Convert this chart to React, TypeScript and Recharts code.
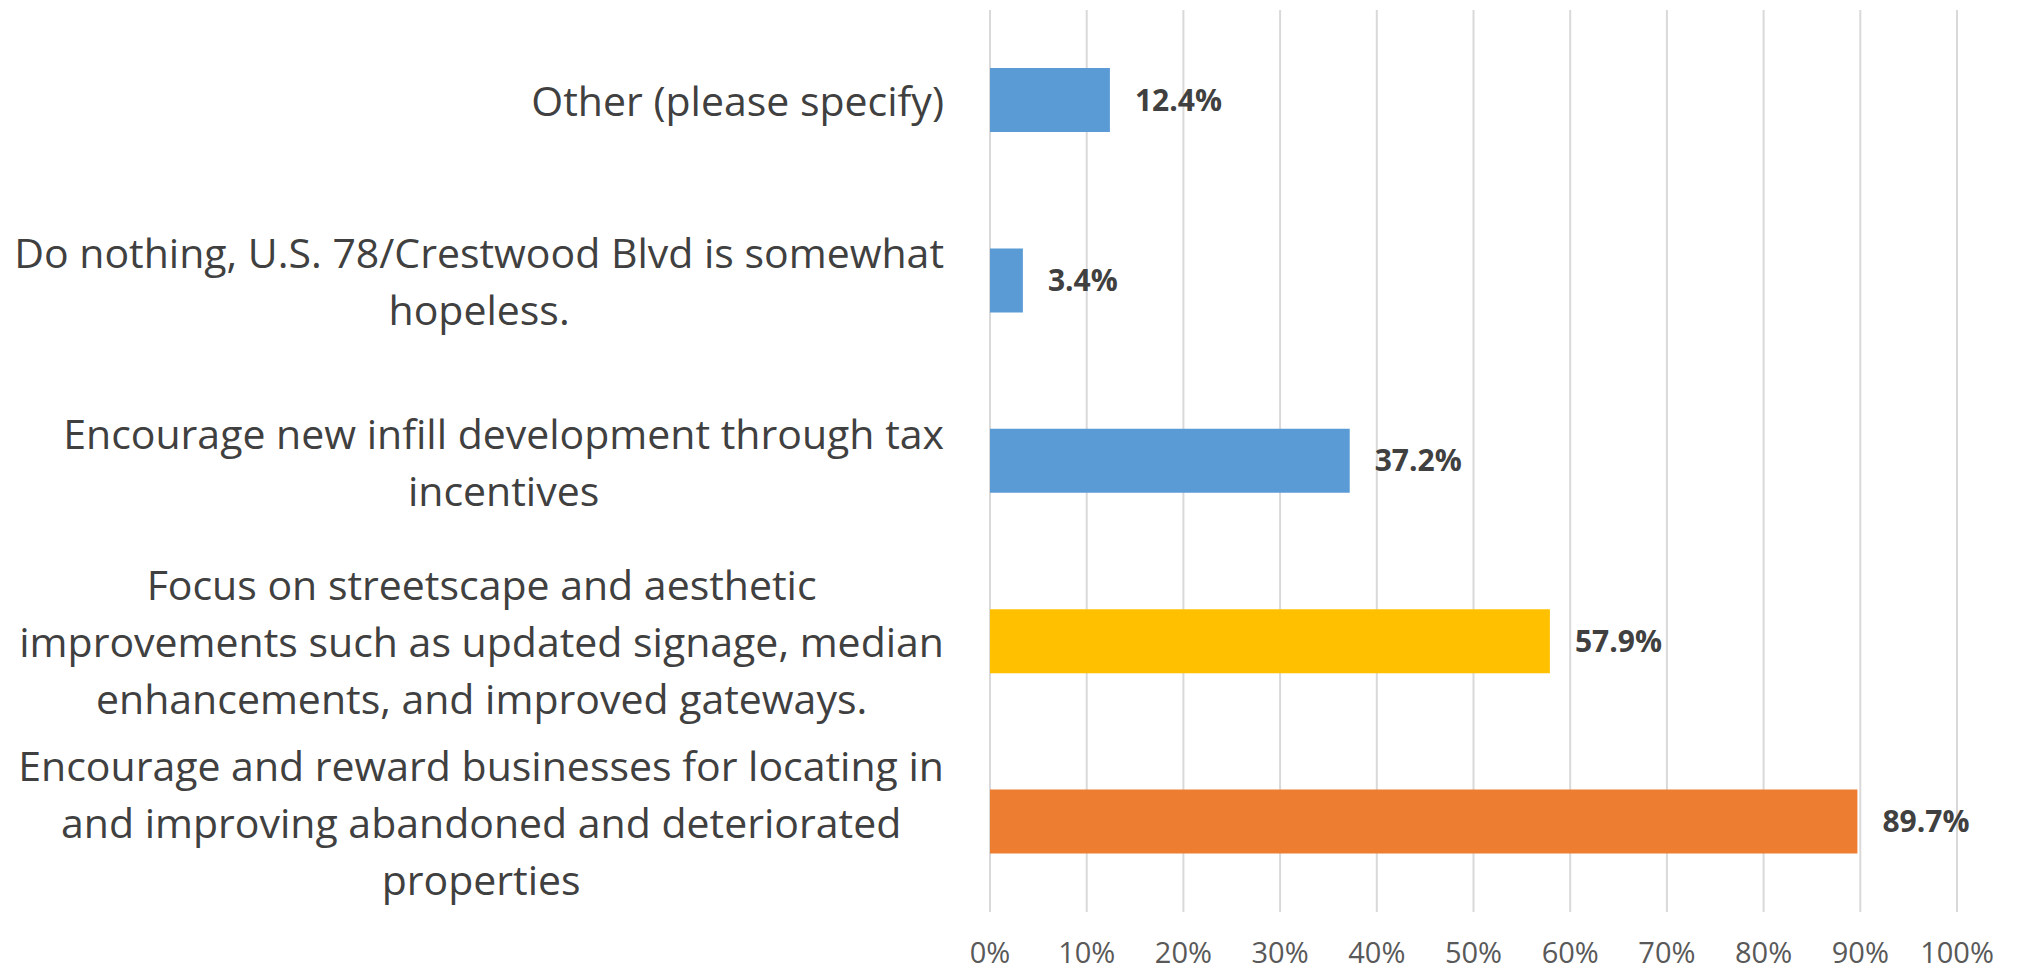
import React from 'react';
import { BarChart, Bar, XAxis, YAxis, CartesianGrid, Cell, LabelList } from 'recharts';

// survey answers, top to bottom, pre-wrapped like the original
const categoryLines: string[][] = [
  ['Other (please specify)'],
  ['Do nothing, U.S. 78/Crestwood Blvd is somewhat', 'hopeless.'],
  ['Encourage new infill development through tax', 'incentives'],
  ['Focus on streetscape and aesthetic', 'improvements such as updated signage, median', 'enhancements, and improved gateways.'],
  ['Encourage and reward businesses for locating in', 'and improving abandoned and deteriorated', 'properties'],
];
const percentValues = [12.4, 3.4, 37.2, 57.9, 89.7];
const barColors = ['#5B9BD5', '#5B9BD5', '#5B9BD5', '#FFC000', '#ED7D31'];
const xTicks = [0, 10, 20, 30, 40, 50, 60, 70, 80, 90, 100];

const data = categoryLines.map((lines, i) => ({
  name: lines.join(' '),
  value: percentValues[i],
}));

const FONT = '"Open Sans", sans-serif';
const CAT_SIZE = 41;
const LINE_GAP = 57;

let ctx: CanvasRenderingContext2D | null = null;
function textWidth(s: string) {
  if (!ctx) ctx = document.createElement('canvas').getContext('2d');
  if (!ctx) return s.length * CAT_SIZE * 0.5;
  ctx.font = `${CAT_SIZE}px "Open Sans"`;
  return ctx.measureText(s).width;
}

// right-aligned block, each line centred inside it (Excel style)
const CategoryTick = (props: any) => {
  const { x, y, index } = props;
  const lines = categoryLines[index] || [];
  const block = Math.max(...lines.map(textWidth));
  const right = x - 46;
  const cx = right - block / 2;
  return (
    <g>
      {lines.map((l, i) => (
        <text key={i} x={cx} y={y + (i - (lines.length - 1) / 2) * LINE_GAP} textAnchor="middle"
          dominantBaseline="central" fontFamily={FONT} fontSize={CAT_SIZE} fill="#404040">
          {l}
        </text>
      ))}
    </g>
  );
};

const PercentTick = (props: any) => {
  const { x, y, payload } = props;
  return (
    <text x={x} y={y + 51} textAnchor="middle"
      fontFamily={FONT} fontSize={29} fill="#595959">
      {`${payload.value}%`}
    </text>
  );
};

export default function App() {
  return (
    <div style={{ position: 'absolute', left: 0, top: 0, background: '#fff' }}>
      <BarChart width={2019} height={971} data={data} layout="vertical"
        margin={{ top: 10, right: 62, left: 0, bottom: 0 }}>
        <CartesianGrid horizontal={false} stroke="#d9d9d9" strokeWidth={2} />
        <XAxis type="number" domain={[0, 100]} ticks={xTicks} height={59}
          axisLine={false} tickLine={false} tickSize={0} tickMargin={0} tick={<PercentTick />} />
        <YAxis type="category" dataKey="name" width={990} axisLine={false} tickLine={false}
          tickSize={0} tickMargin={0} tick={<CategoryTick />} interval={0} />
        <Bar dataKey="value" barSize={64} isAnimationActive={false}>
          {data.map((d, i) => (
            <Cell key={d.name} fill={barColors[i]} />
          ))}
          <LabelList dataKey="value" position="right" offset={25}
            formatter={(v: any) => `${Number(v).toFixed(1)}%`}
            style={{ fontFamily: FONT, fontSize: 30, fontWeight: 700, fill: '#404040' }} />
        </Bar>
      </BarChart>
    </div>
  );
}
